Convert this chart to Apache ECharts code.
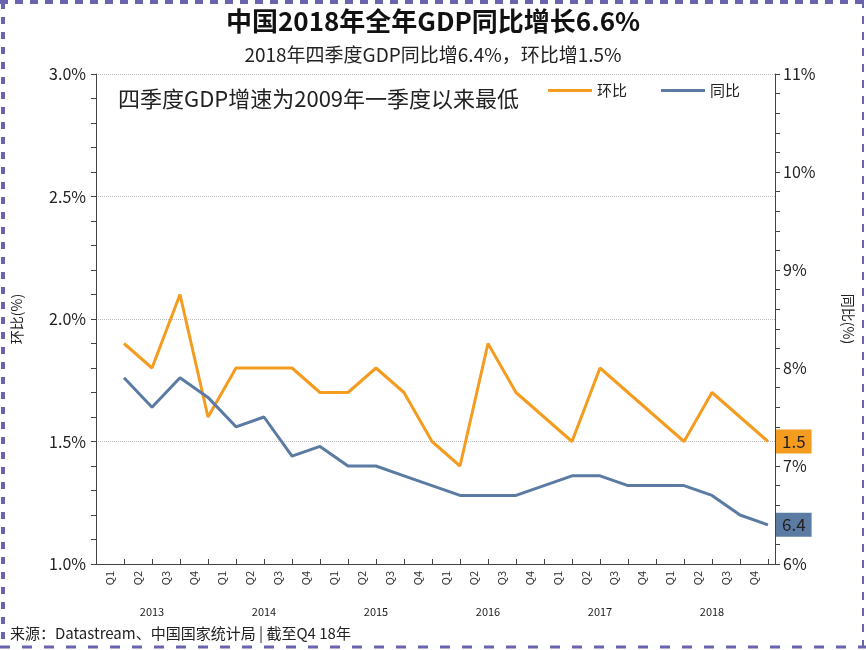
<!DOCTYPE html>
<html>
<head>
<meta charset="utf-8">
<script src="https://cdn.jsdelivr.net/npm/echarts@6/dist/echarts.min.js"></script>
<style>
html,body{margin:0;padding:0;background:#fff;}
#c{width:866px;height:650px;}
</style>
</head>
<body>
<div id="c"></div>
<script>
// ---- data ----
const quarters = ['Q1','Q2','Q3','Q4','Q1','Q2','Q3','Q4','Q1','Q2','Q3','Q4','Q1','Q2','Q3','Q4','Q1','Q2','Q3','Q4','Q1','Q2','Q3','Q4'];
const years = ['2013','2014','2015','2016','2017','2018'];
const qoq = [1.9,1.8,2.1,1.6, 1.8,1.8,1.8,1.7, 1.7,1.8,1.7,1.5, 1.4,1.9,1.7,1.6, 1.5,1.8,1.7,1.6, 1.5,1.7,1.6,1.5];
const yoy = [7.9,7.6,7.9,7.7, 7.4,7.5,7.1,7.2, 7.0,7.0,6.9,6.8, 6.7,6.7,6.7,6.8, 6.9,6.9,6.8,6.8, 6.8,6.7,6.5,6.4];
const leftTicks = {min:1.0, max:3.0, interval:0.5};
const rightTicks = {min:6, max:11, interval:1};

const ORANGE = '#F39C1F';
const BLUE = '#5B7BA3';
const FONT = '"Noto Sans CJK SC", "Noto Sans", sans-serif';

const chart = echarts.init(document.getElementById('c'), null, {renderer:'canvas'});
const option = {
  backgroundColor:'#fff',
  animation:false,
  textStyle:{fontFamily:FONT},
  title:[
    {text:'中国2018年全年GDP同比增长6.6%', left:'center', top:3,
     textStyle:{fontSize:26, fontWeight:'bold', color:'#111', fontFamily:FONT}},
    {text:'2018年四季度GDP同比增6.4%，环比增1.5%', left:'center', top:40,
     textStyle:{fontSize:19, fontWeight:'normal', color:'#222', fontFamily:FONT}}
  ],
  legend:{
    data:['环比','同比'], left:543, top:78, icon:'rect', itemWidth:44, itemHeight:3, itemGap:34,
    textStyle:{fontSize:15, color:'#222', fontFamily:FONT}
  },
  grid:[
    {left:96, right:91, top:74, bottom:86, containLabel:false},
    {left:96, width:672, top:74, bottom:86, containLabel:false}
  ],
  xAxis:[
    {gridIndex:0, type:'value', min:0, max:679/28,
     axisLine:{show:true, lineStyle:{color:'#444', width:1}},
     axisTick:{show:false}, axisLabel:{show:false}, splitLine:{show:false}},
    {gridIndex:1, type:'category', data:quarters, boundaryGap:true, position:'bottom',
     axisLine:{show:true, lineStyle:{color:'#444', width:1}},
     axisTick:{show:true, inside:true, length:5, interval:0, lineStyle:{color:'#444'}},
     axisLabel:{interval:0, rotate:90, fontSize:11, color:'#333', margin:7, fontFamily:FONT},
     splitLine:{show:false}},
    {gridIndex:1, type:'category', data:years, boundaryGap:true, position:'bottom', offset:34,
     axisLine:{show:false}, axisTick:{show:false},
     axisLabel:{interval:0, fontSize:11, color:'#222', fontFamily:FONT}, splitLine:{show:false}}
  ],
  yAxis:[
    {gridIndex:0, type:'value', position:'left', min:leftTicks.min, max:leftTicks.max, interval:leftTicks.interval,
     name:'环比(%)', nameLocation:'middle', nameGap:72, nameRotate:90,
     nameTextStyle:{fontSize:14, color:'#222', fontFamily:FONT},
     axisLine:{show:true, lineStyle:{color:'#444'}},
     axisTick:{show:true, length:5, lineStyle:{color:'#444'}},
     minorTick:{show:true, splitNumber:5, length:5, lineStyle:{color:'#444'}},
     axisLabel:{fontSize:16, color:'#222', margin:10, formatter:v=>v.toFixed(1)+'%', fontFamily:FONT},
     splitLine:{show:true, lineStyle:{color:'#bbb', type:'dotted', width:1}}},
    {gridIndex:0, type:'value', position:'right', min:rightTicks.min, max:rightTicks.max, interval:rightTicks.interval,
     name:'同比(%)', nameLocation:'middle', nameGap:66, nameRotate:-90,
     nameTextStyle:{fontSize:14, color:'#222', fontFamily:FONT},
     axisLine:{show:true, lineStyle:{color:'#444'}},
     axisTick:{show:true, length:5, lineStyle:{color:'#444'}},
     minorTick:{show:true, splitNumber:5, length:5, lineStyle:{color:'#444'}},
     axisLabel:{fontSize:16, color:'#222', margin:8, formatter:v=>v+'%', fontFamily:FONT},
     splitLine:{show:false}},
    {gridIndex:1, type:'value', show:false, min:0, max:1}
  ],
  graphic:[
    {type:'text', left:118, top:88, style:{text:'四季度GDP增速为2009年一季度以来最低', fontSize:22, fill:'#222', fontFamily:FONT}},
    {type:'text', left:10, top:626, style:{text:'来源：Datastream、中国国家统计局 | 截至Q4 18年', fontSize:15, fill:'#222', fontFamily:FONT}},
    {type:'line', shape:{x1:3, y1:2, x2:3, y2:648}, style:{stroke:'#6a64b0', lineWidth:4, lineDash:[7,8]}},
    {type:'line', shape:{x1:0, y1:2, x2:866, y2:2}, style:{stroke:'#6a64b0', lineWidth:4, lineDash:[8,7]}},
    {type:'line', shape:{x1:863, y1:0, x2:863, y2:650}, style:{stroke:'#6a64b0', lineWidth:2, lineDash:[8,8]}},
    {type:'line', shape:{x1:0, y1:647, x2:866, y2:647}, style:{stroke:'#6a64b0', lineWidth:3, lineDash:[10,12]}}
  ],
  series:[
    {name:'环比', type:'line', xAxisIndex:0, yAxisIndex:0, symbol:'none',
     data:qoq.map((v,i)=>[i+1, v]),
     itemStyle:{color:ORANGE}, lineStyle:{color:ORANGE, width:3},
     endLabel:{show:true, distance:8, formatter:p=>p.value[1].toFixed(1), backgroundColor:ORANGE,
       color:'#222', fontSize:17, padding:[4,6,3,6], fontFamily:FONT}},
    {name:'同比', type:'line', xAxisIndex:0, yAxisIndex:1, symbol:'none',
     data:yoy.map((v,i)=>[i+1, v]),
     itemStyle:{color:BLUE}, lineStyle:{color:BLUE, width:3},
     endLabel:{show:true, distance:8, formatter:p=>p.value[1].toFixed(1), backgroundColor:BLUE,
       color:'#222', fontSize:17, padding:[4,6,3,6], fontFamily:FONT}}
  ]
};
chart.setOption(option);
</script>
</body>
</html>
